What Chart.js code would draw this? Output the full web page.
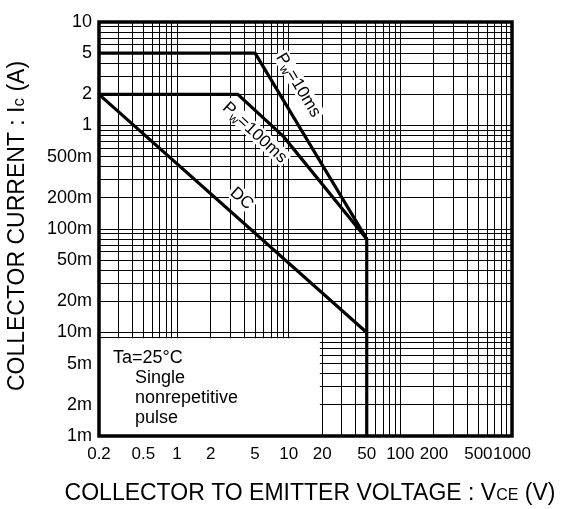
<!DOCTYPE html>
<html>
<head>
<meta charset="utf-8">
<script src="https://cdn.jsdelivr.net/npm/chart.js@4.4.1/dist/chart.umd.min.js"></script>
<style>
  html, body { margin: 0; padding: 0; background: #fff; }
  #wrap { width: 563px; height: 509px; position: relative; }
</style>
</head>
<body>
<div id="wrap"><canvas id="soaChart"></canvas></div>
<script>
// Safe operating area, log-log
const xMin = 0.2, xMax = 1000;
const yMin = 0.001, yMax = 10;

const xTickValues = [0.2, 0.5, 1, 2, 5, 10, 20, 50, 100, 200, 500, 1000];
const xTickLabels = ['0.2', '0.5', '1', '2', '5', '10', '20', '50', '100', '200', '500', '1000'];
const yTickValues = [10, 5, 2, 1, 0.5, 0.2, 0.1, 0.05, 0.02, 0.01, 0.005, 0.002, 0.001];
const yTickLabels = ['10', '5', '2', '1', '500m', '200m', '100m', '50m', '20m', '10m', '5m', '2m', '1m'];

// curves (V, A)
const pw10msV = [0.2, 5, 50, 50];
const pw10msI = [5, 5, 0.08, 0.001];
const pw100msV = [0.2, 3.5, 9, 50];
const pw100msI = [2, 2, 0.78, 0.08];
const dcV = [0.2, 50];
const dcI = [2, 0.01];

const noteLines = ['Ta=25°C', 'Single', 'nonrepetitive', 'pulse'];

// grid: 1..9 in every decade
const gridDigits = [1, 2, 3, 4, 5, 6, 7, 8, 9];
const gridFor = (min, max) => {
    const out = [];
    for (let e = Math.floor(Math.log10(min)); e <= Math.ceil(Math.log10(max)); e++) {
        gridDigits.forEach(d => {
            const v = Number((d * Math.pow(10, e)).toPrecision(6));
            if (v >= min - 1e-12 && v <= max + 1e-9) out.push(v);
        });
    }
    return out;
};
const xGrid = gridFor(xMin, xMax);
const yGrid = gridFor(yMin, yMax);

const labelFor = (values, labels) => (v) => {
    const i = values.findIndex(t => Math.abs(t - v) / t < 1e-6);
    return i >= 0 ? labels[i] : '';
};

const FONT = '"Liberation Sans", Arial, sans-serif';

// text made of parts with different sizes (subscripts)
const drawParts = (ctx, parts, x, y) => {
    let w = 0;
    parts.forEach(p => { ctx.font = p.size + 'px ' + FONT; p.w = ctx.measureText(p.t).width; w += p.w; });
    let cx = x - w / 2;
    ctx.textAlign = 'left';
    ctx.textBaseline = 'alphabetic';
    parts.forEach(p => {
        ctx.font = p.size + 'px ' + FONT;
        ctx.fillText(p.t, cx, y + (p.dy || 0));
        cx += p.w;
    });
    return w;
};

const curveLabels = [
    { parts: [{ t: 'P', size: 17 }, { t: 'w', size: 12, dy: 3 }, { t: '=10ms', size: 17 }], x: 11.4, y: 2.35, seg: [[5, 5], [50, 0.08]] },
    { parts: [{ t: 'P', size: 17 }, { t: 'w', size: 12, dy: 3 }, { t: '=100ms', size: 17 }], x: 4.7, y: 0.8, seg: [[3.5, 2], [9, 0.78]] },
    { parts: [{ t: 'DC', size: 17 }], x: 3.6, y: 0.185, seg: [[0.2, 2], [50, 0.01]] }
];

const overlay = {
    id: 'overlay',
    beforeDatasetsDraw(chart) {
        const { ctx, chartArea, scales: { x, y } } = chart;
        // white note box in the lower left corner
        const bx2 = x.getPixelForValue(19);
        const by1 = y.getPixelForValue(0.0088);
        ctx.save();
        ctx.fillStyle = '#fff';
        ctx.fillRect(chartArea.left, by1, bx2 - chartArea.left, chartArea.bottom - by1);
        ctx.restore();
    },
    afterDatasetsDraw(chart) {
        const { ctx, chartArea, scales: { x, y } } = chart;
        ctx.save();
        // curve labels
        curveLabels.forEach(l => {
            const px = x.getPixelForValue(l.x), py = y.getPixelForValue(l.y);
            const ax = x.getPixelForValue(l.seg[0][0]), ay = y.getPixelForValue(l.seg[0][1]);
            const bx = x.getPixelForValue(l.seg[1][0]), by = y.getPixelForValue(l.seg[1][1]);
            const ang = Math.atan2(by - ay, bx - ax);
            ctx.save();
            ctx.translate(px, py);
            ctx.rotate(ang);
            let w = 0;
            l.parts.forEach(p => { ctx.font = p.size + 'px ' + FONT; w += ctx.measureText(p.t).width; });
            ctx.fillStyle = '#fff';
            ctx.fillRect(-w / 2 - 2, -13, w + 4, 17);
            ctx.fillStyle = '#000';
            drawParts(ctx, l.parts, 0, 1);
            ctx.restore();
        });
        // note text
        ctx.fillStyle = '#000';
        ctx.font = '18px ' + FONT;
        ctx.textAlign = 'left';
        ctx.textBaseline = 'middle';
        noteLines.forEach((t, i) => {
            ctx.fillText(t, chartArea.left + (i === 0 ? 14 : 36), chartArea.bottom - 18 - (noteLines.length - 1 - i) * 20);
        });
        // frame
        ctx.strokeStyle = '#000';
        ctx.lineWidth = 3.5;
        ctx.strokeRect(chartArea.left, chartArea.top, chartArea.right - chartArea.left, chartArea.bottom - chartArea.top);
        ctx.restore();
    },
    afterDraw(chart) {
        const { ctx } = chart;
        ctx.save();
        ctx.fillStyle = '#000';
        // y title
        ctx.translate(24, 226);
        ctx.rotate(-Math.PI / 2);
        drawParts(ctx, [{ t: 'COLLECTOR CURRENT : I', size: 23 }, { t: 'c', size: 17 }, { t: ' (A)', size: 23 }], 0, 0);
        ctx.restore();
        ctx.save();
        ctx.fillStyle = '#000';
        drawParts(ctx, [{ t: 'COLLECTOR TO EMITTER VOLTAGE : V', size: 23 }, { t: 'CE', size: 16 }, { t: ' (V)', size: 23 }], 310, 500);
        ctx.restore();
    }
};

const toPoints = (xs, ys) => xs.map((v, i) => ({ x: v, y: ys[i] }));
const line = (label, xs, ys) => ({
    label,
    data: toPoints(xs, ys),
    borderColor: '#000',
    borderWidth: 3.2,
    pointRadius: 0,
    tension: 0,
    fill: false
});

Chart.defaults.color = '#000';
Chart.defaults.font.family = FONT;

new Chart(document.getElementById('soaChart'), {
    type: 'line',
    data: {
        datasets: [
            line('Pw=10ms', pw10msV, pw10msI),
            line('Pw=100ms', pw100msV, pw100msI),
            line('DC', dcV, dcI)
        ]
    },
    options: {
        responsive: true,
        maintainAspectRatio: false,
        animation: false,
        layout: { padding: { top: 22, right: 51, left: 0, bottom: 0 } },
        plugins: { legend: { display: false }, tooltip: { enabled: false } },
        scales: {
            x: {
                type: 'logarithmic',
                min: xMin,
                max: xMax,
                afterBuildTicks: s => { s.ticks = xGrid.map(v => ({ value: v })); },
                afterFit: s => { s.height = 73; },
                ticks: { autoSkip: false, maxRotation: 0, padding: 8, font: { size: 17 }, callback: labelFor(xTickValues, xTickLabels) },
                grid: { color: '#000', lineWidth: 1, drawTicks: false },
                border: { display: false }
            },
            y: {
                type: 'logarithmic',
                min: yMin,
                max: yMax,
                afterBuildTicks: s => { s.ticks = yGrid.map(v => ({ value: v })); },
                afterFit: s => { s.width = 99; },
                ticks: { autoSkip: false, padding: 7, font: { size: 18 }, callback: labelFor(yTickValues, yTickLabels) },
                grid: { color: '#000', lineWidth: 1, drawTicks: false },
                border: { display: false }
            }
        }
    },
    plugins: [overlay]
});
</script>
</body>
</html>
